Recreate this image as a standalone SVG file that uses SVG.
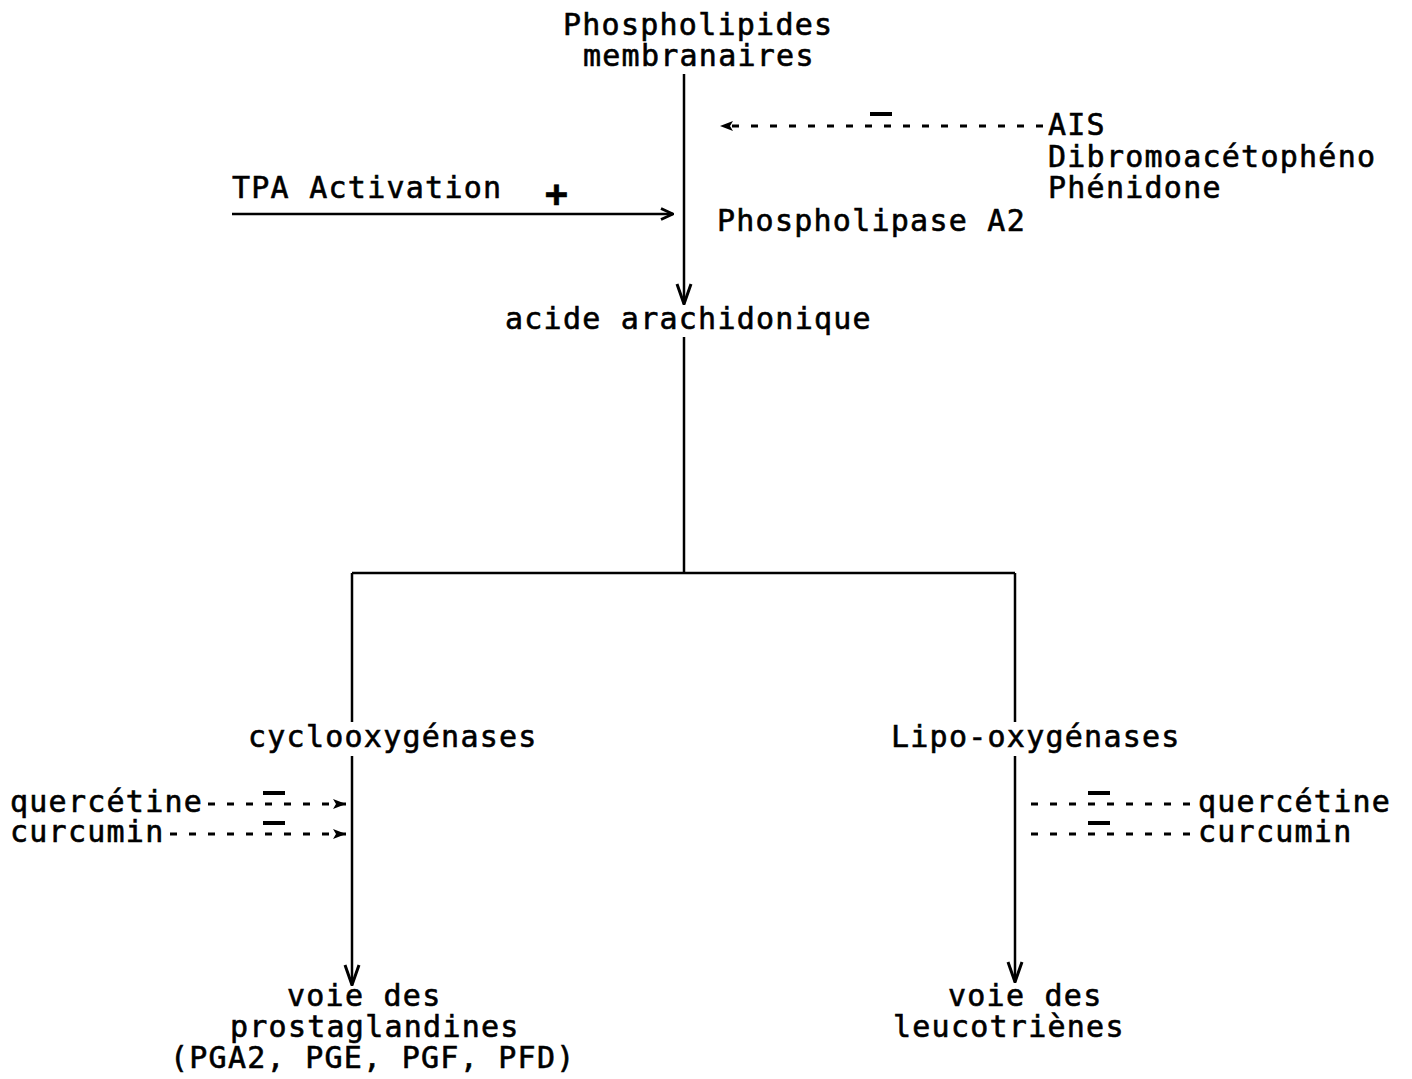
<svg xmlns="http://www.w3.org/2000/svg" width="1412" height="1079" viewBox="0 0 1412 1079">
<style>
text{font-family:"DejaVu Sans Mono","Liberation Mono",monospace;font-size:30px;letter-spacing:1.25px;fill:#000;stroke:#000;stroke-width:0.6}
.sign{font-weight:bold;font-size:38px;letter-spacing:0}
.ln{stroke:#000;stroke-width:2.5;fill:none}
.dash{stroke:#000;stroke-width:3;fill:none;stroke-dasharray:7 12}
.minus{stroke:#000;stroke-width:4;fill:none}
</style>
<defs>
<marker id="open" viewBox="0 0 14 14" refX="13" refY="7" markerWidth="14" markerHeight="14" markerUnits="userSpaceOnUse" orient="auto">
<path d="M1,1.5 L13,7 L1,12.5" fill="none" stroke="#000" stroke-width="2.8"/>
</marker>
<marker id="big" viewBox="0 0 22 18" refX="21" refY="9" markerWidth="22" markerHeight="18" markerUnits="userSpaceOnUse" orient="auto">
<path d="M1,2 L21,9 L1,16" fill="none" stroke="#000" stroke-width="3"/>
</marker>
<marker id="chev" viewBox="0 0 14 14" refX="13" refY="7" markerWidth="14" markerHeight="14" markerUnits="userSpaceOnUse" orient="auto">
<path d="M0,2 L13,7 L0,12 L3,7 Z" fill="#000"/>
</marker>
</defs>
<g id="connectors">
<line class="ln" x1="684" y1="74" x2="684" y2="304" marker-end="url(#big)"/>
<line class="ln" x1="684" y1="337" x2="684" y2="573"/>
<line class="ln" x1="352" y1="573" x2="1015" y2="573"/>
<line class="ln" x1="352" y1="573" x2="352" y2="722"/>
<line class="ln" x1="1015" y1="573" x2="1015" y2="722"/>
<line class="ln" x1="352" y1="756" x2="352" y2="985" marker-end="url(#big)"/>
<line class="ln" x1="1015" y1="756" x2="1015" y2="982" marker-end="url(#big)"/>
<line class="ln" x1="232" y1="214" x2="673" y2="214" marker-end="url(#open)"/>
<line class="dash" x1="1043" y1="126" x2="720" y2="126" marker-end="url(#chev)"/>
<line class="dash" x1="208" y1="804" x2="346" y2="804" marker-end="url(#chev)"/>
<line class="dash" x1="170" y1="834" x2="346" y2="834" marker-end="url(#chev)"/>
<line class="dash" x1="1031" y1="804" x2="1196" y2="804"/>
<line class="dash" x1="1031" y1="834" x2="1196" y2="834"/>
</g>
<g id="signs">
<line class="minus" x1="870" y1="114" x2="892" y2="114"/>
<line class="minus" x1="263" y1="793" x2="285" y2="793"/>
<line class="minus" x1="263" y1="823" x2="285" y2="823"/>
<line class="minus" x1="1088" y1="793" x2="1110" y2="793"/>
<line class="minus" x1="1088" y1="823" x2="1110" y2="823"/>
<text class="sign" x="545" y="207">+</text>
</g>
<g id="n-phospholipides">
<text x="563" y="35">Phospholipides</text>
<text x="583" y="66">membranaires</text>
</g>
<g id="n-inhibitors-pla2">
<text x="1048" y="135">AIS</text>
<text x="1048" y="167">Dibromoacétophéno</text>
<text x="1048" y="198">Phénidone</text>
</g>
<g id="n-tpa"><text x="232" y="198">TPA Activation</text></g>
<g id="n-pla2"><text x="717" y="231">Phospholipase A2</text></g>
<g id="n-arachidonique"><text x="505" y="329">acide arachidonique</text></g>
<g id="n-cox"><text x="248" y="747">cyclooxygénases</text></g>
<g id="n-lox"><text x="891" y="747">Lipo-oxygénases</text></g>
<g id="n-cox-inhib">
<text x="10" y="812">quercétine</text>
<text x="10" y="842">curcumin</text>
</g>
<g id="n-lox-inhib">
<text x="1198" y="812">quercétine</text>
<text x="1198" y="842">curcumin</text>
</g>
<g id="n-prostaglandines">
<text x="287" y="1006">voie des</text>
<text x="230" y="1037">prostaglandines</text>
<text x="170" y="1068">(PGA2, PGE, PGF, PFD)</text>
</g>
<g id="n-leucotrienes">
<text x="948" y="1006">voie des</text>
<text x="893" y="1037">leucotriènes</text>
</g>
</svg>
